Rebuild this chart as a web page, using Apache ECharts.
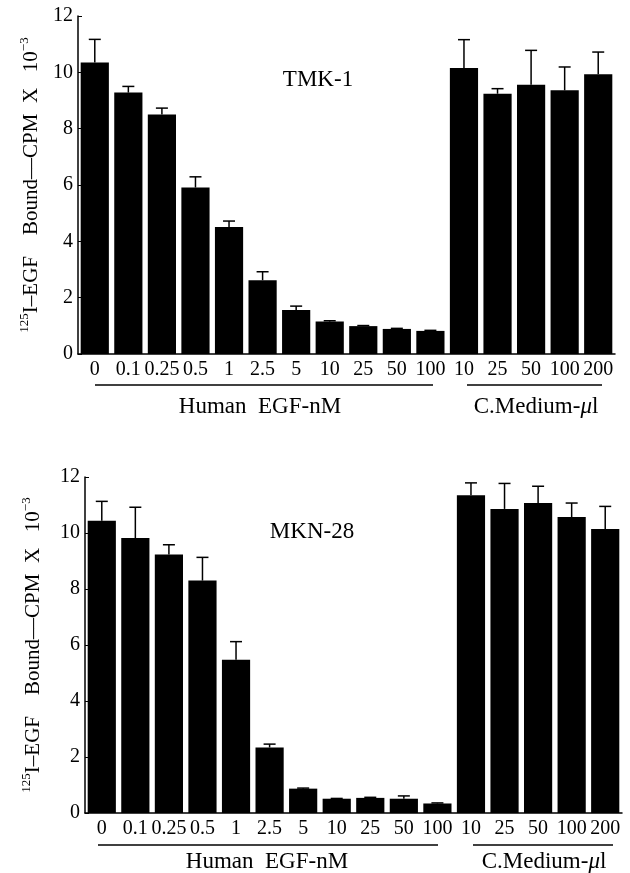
<!DOCTYPE html>
<html>
<head>
<meta charset="utf-8">
<script src="https://cdn.jsdelivr.net/npm/echarts@6/dist/echarts.min.js"></script>
<style>
html, body { margin: 0; padding: 0; background: #fff; }
#main { width: 630px; height: 873px; }
</style>
</head>
<body>
<div id="main"></div>
<script>
var categories = ['0', '0.1', '0.25', '0.5', '1', '2.5', '5', '10', '25', '50', '100', '10', '25', '50', '100', '200'];

// TMK-1 panel (CPM x 10^-3)
var tmkMean = [10.35, 9.28, 8.50, 5.91, 4.51, 2.62, 1.56, 1.15, 0.99, 0.89, 0.82, 10.15, 9.24, 9.56, 9.36, 9.93];
var tmkTop  = [11.17, 9.50, 8.73, 6.29, 4.72, 2.92, 1.70, 1.18, 1.01, 0.91, 0.84, 11.16, 9.42, 10.78, 10.19, 10.72];

// MKN-28 panel
var mknMean = [10.44, 9.82, 9.23, 8.30, 5.47, 2.34, 0.87, 0.51, 0.54, 0.51, 0.34, 11.35, 10.86, 11.07, 10.57, 10.14];
var mknTop  = [11.13, 10.92, 9.58, 9.13, 6.12, 2.46, 0.89, 0.52, 0.56, 0.61, 0.36, 11.79, 11.77, 11.67, 11.07, 10.95];

var yTicks = [0, 2, 4, 6, 8, 10, 12];

var font = 'Liberation Serif';
var myChart = echarts.init(document.getElementById('main'));

function errData(mean, top) {
    var out = [];
    for (var i = 0; i < mean.length; i++) {
        out.push([i, mean[i], top[i]]);
    }
    return out;
}

function errItem(params, api) {
    var p0 = api.coord([api.value(0), api.value(1)]);
    var p1 = api.coord([api.value(0), api.value(2)]);
    var st = { stroke: '#000', lineWidth: 1.5 };
    return {
        type: 'group',
        children: [
            { type: 'line', shape: { x1: p0[0], y1: p0[1], x2: p1[0], y2: p1[1] }, style: st },
            { type: 'line', shape: { x1: p1[0] - 6, y1: p1[1], x2: p1[0] + 6, y2: p1[1] }, style: st }
        ]
    };
}

function xAxisFor(idx) {
    return {
        type: 'category',
        gridIndex: idx,
        data: categories,
        axisLine: { lineStyle: { color: '#000', width: 1.5 } },
        axisTick: { show: false },
        axisLabel: { interval: 0, color: '#000', fontFamily: font, fontSize: 20, margin: 6 }
    };
}

function yAxisFor(idx, gap) {
    return {
        type: 'value',
        gridIndex: idx,
        min: yTicks[0],
        max: yTicks[yTicks.length - 1],
        interval: 2,
        name: '{s|125}{m|I\u2013EGF    Bound\u2013\u2013CPM  X   10}{s|\u22123}',
        nameLocation: 'middle',
        nameRotate: 90,
        nameGap: gap,
        nameTextStyle: {
            rich: {
                m: { fontFamily: font, fontSize: 21, color: '#000', verticalAlign: 'bottom', lineHeight: 24 },
                s: { fontFamily: font, fontSize: 13, color: '#000', verticalAlign: 'top', lineHeight: 24 }
            }
        },
        axisLine: { show: true, lineStyle: { color: '#000', width: 1.5 } },
        axisTick: { show: true, inside: true, length: 4, lineStyle: { color: '#000' } },
        splitLine: { show: false },
        axisLabel: { color: '#000', fontFamily: font, fontSize: 20, margin: 5 }
    };
}

var ln = { stroke: '#000', lineWidth: 1.5 };
var groupRich = {
    t: { fontFamily: font, fontSize: 23, color: '#000' },
    i: { fontFamily: font, fontSize: 23, fontStyle: 'italic', color: '#000' }
};
function groupLabel(x, y, text) {
    return { type: 'text', x: x, y: y,
             style: { text: text, rich: groupRich, textAlign: 'center', textVerticalAlign: 'middle' } };
}

option = {
    backgroundColor: '#fff',
    animation: false,
    title: [
        { text: 'TMK-1', left: 313, top: 63, textAlign: 'center',
          textStyle: { fontFamily: font, fontSize: 23, fontWeight: 'normal', color: '#000' } },
        { text: 'MKN-28', left: 307, top: 515, textAlign: 'center',
          textStyle: { fontFamily: font, fontSize: 23, fontWeight: 'normal', color: '#000' } }
    ],
    grid: [
        { left: 78, top: 16, width: 537, height: 338 },
        { left: 85, top: 477, width: 537, height: 336 }
    ],
    xAxis: [xAxisFor(0), xAxisFor(1)],
    yAxis: [yAxisFor(0, 35), yAxisFor(1, 41)],
    series: [
        { type: 'bar', xAxisIndex: 0, yAxisIndex: 0, data: tmkMean, barCategoryGap: '16%',
          itemStyle: { color: '#000' } },
        { type: 'custom', xAxisIndex: 0, yAxisIndex: 0, data: errData(tmkMean, tmkTop),
          renderItem: errItem, z: 3 },
        { type: 'bar', xAxisIndex: 1, yAxisIndex: 1, data: mknMean, barCategoryGap: '16%',
          itemStyle: { color: '#000' } },
        { type: 'custom', xAxisIndex: 1, yAxisIndex: 1, data: errData(mknMean, mknTop),
          renderItem: errItem, z: 3 }
    ],
    graphic: [
        { type: 'line', shape: { x1: 95, y1: 385, x2: 433, y2: 385 }, style: ln },
        { type: 'line', shape: { x1: 467, y1: 385, x2: 602, y2: 385 }, style: ln },
        groupLabel(260, 407, '{t|Human  EGF-nM}'),
        groupLabel(536, 407, '{t|C.Medium-}{i|\u03bc}{t|l}'),
        { type: 'line', shape: { x1: 98, y1: 845, x2: 438, y2: 845 }, style: ln },
        { type: 'line', shape: { x1: 473, y1: 845, x2: 613, y2: 845 }, style: ln },
        groupLabel(267, 862, '{t|Human  EGF-nM}'),
        groupLabel(544, 862, '{t|C.Medium-}{i|\u03bc}{t|l}')
    ]
};
myChart.setOption(option);
</script>
</body>
</html>
